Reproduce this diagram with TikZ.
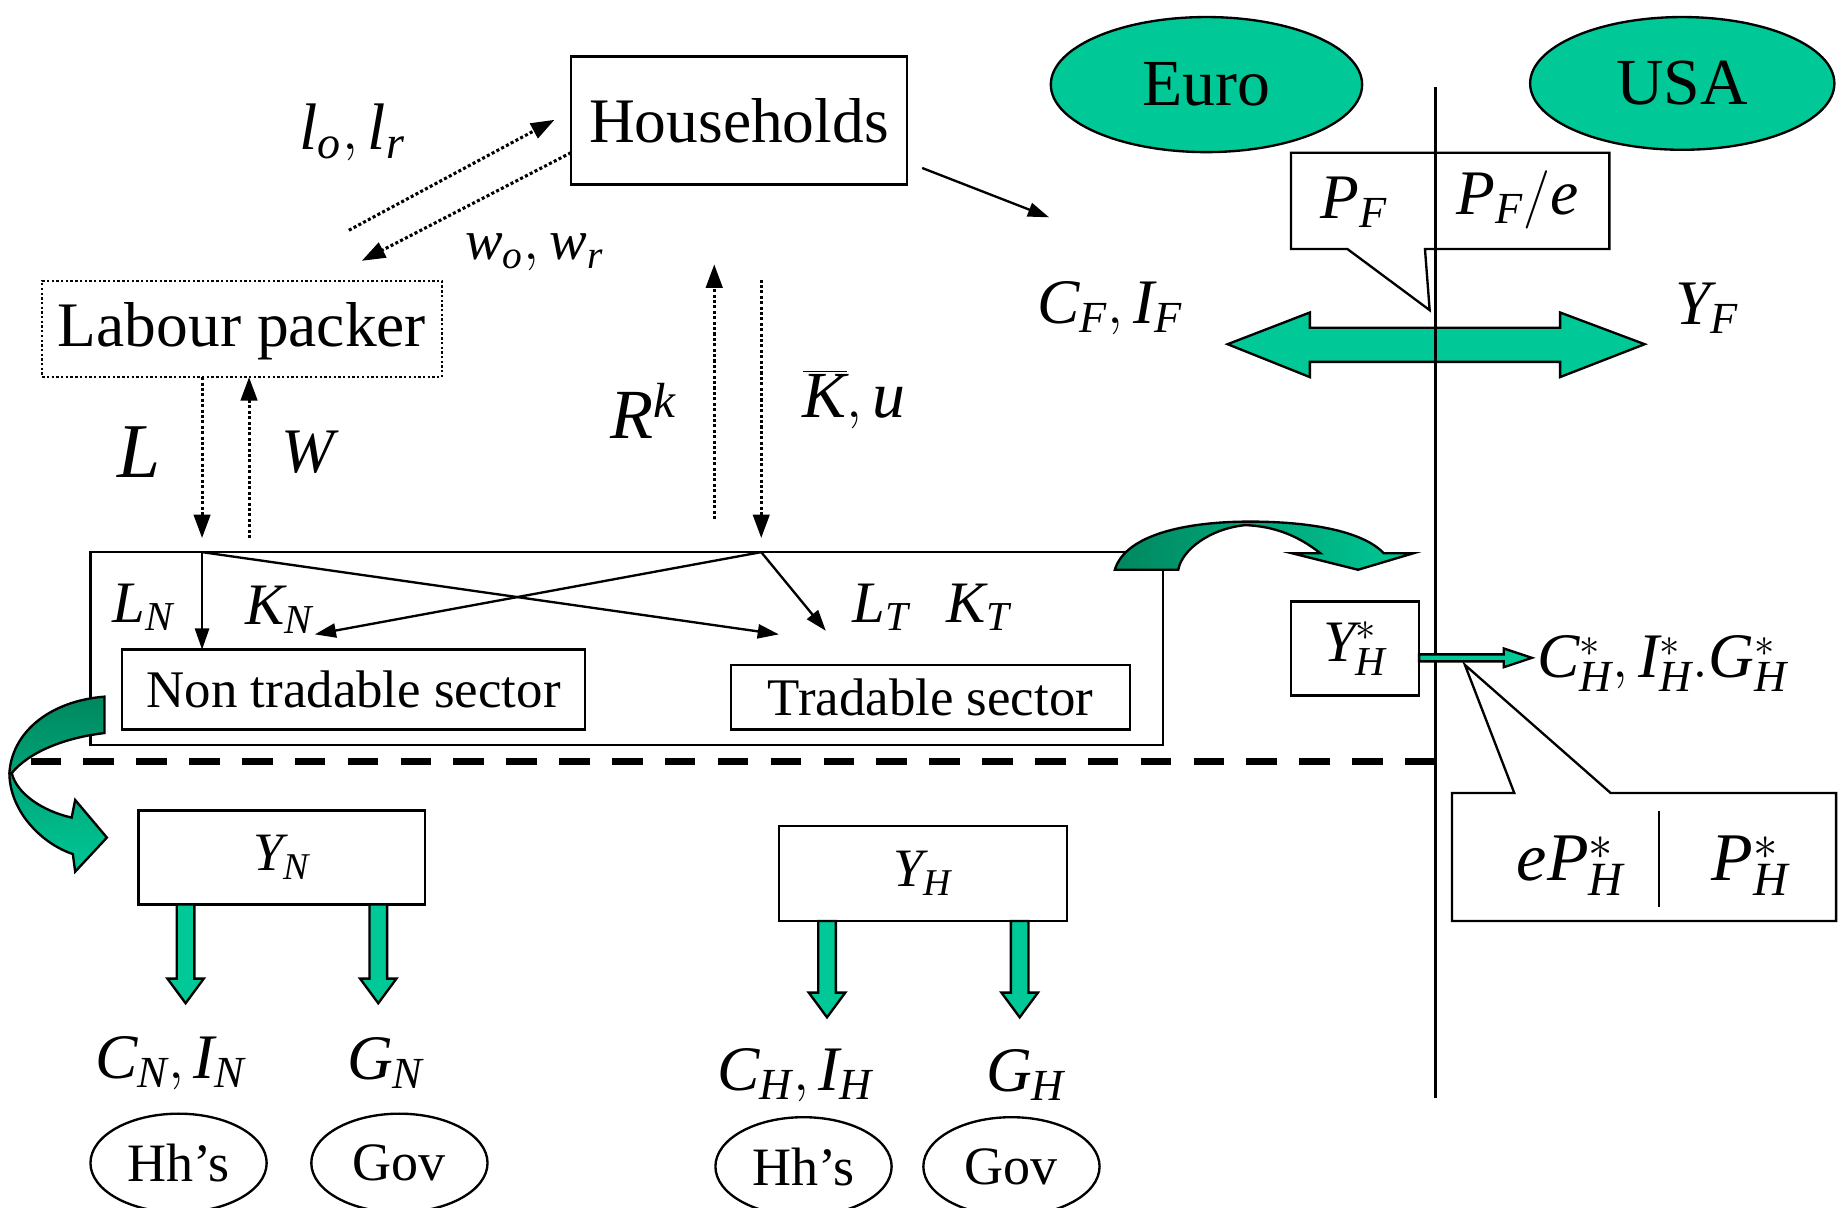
\documentclass[tikz,border=0pt]{standalone}
\usepackage{fontspec}
\setmainfont{Liberation Serif}
\usetikzlibrary{arrows.meta,shapes.geometric}
\definecolor{tealg}{RGB}{0,200,150}
\definecolor{darkg}{RGB}{0,135,95}
\newcommand\vv[1]{\mathit{#1}}
\newcommand\blockdown[3]{\draw[blockarrow] ({#1-7.5},#2) -- ({#1+7.5},#2) -- ({#1+7.5},{#3-21}) -- ({#1+15.5},{#3-21}) -- (#1,#3) -- ({#1-15.5},{#3-21}) -- ({#1-7.5},{#3-21}) -- cycle;}
\begin{document}
\begin{tikzpicture}[x=0.5pt,y=-0.5pt,
  every node/.style={inner sep=0pt,outer sep=0pt},
  fs/.style={font=\fontsize{#1}{#1}\selectfont},
  rbox/.style={draw,line width=1pt,fill=white},
  ell/.style={ellipse,draw,line width=1pt},
  dotarrow/.style={densely dotted,line width=1.3pt,-{Triangle[length=10pt,width=7pt]}},
  solarrow/.style={line width=1pt,-{Triangle[length=9pt,width=6pt]}},
  blockarrow/.style={draw,line width=1pt,fill=tealg,line join=miter},
]
\useasboundingbox (0,0) rectangle (1568,1028);

% boxes
\node[rbox,minimum width=143pt,minimum height=54.5pt,fs=27] (hh) at (629,102.5) {Households};
\node[draw,densely dotted,line width=1pt,minimum width=170pt,minimum height=41pt] (lp) at (206,280) {};
\node[fs=27] (lptext) at (206,282) {Labour packer};
\node[draw,line width=1pt,minimum width=456.5pt,minimum height=82pt] (big) at (533.5,552) {};
\node[rbox,minimum width=197pt,minimum height=34pt,fs=22.5] (nts) at (301,587) {Non tradable sector};
\node[rbox,minimum width=170pt,minimum height=27.5pt,fs=22.5] (ts) at (792,593.5) {Tradable sector};

% ellipses
\node[ell,fill=tealg,minimum width=132.5pt,minimum height=57.5pt,fs=28] (euro) at (1027,72) {Euro};
\node[ell,fill=tealg,minimum width=129.5pt,minimum height=56.5pt,fs=28] (usa) at (1432,71) {USA};

% dotted flows
\coordinate (lsrc) at (297,196); \coordinate (ltgt) at (472,102);
\draw[dotarrow] (lsrc) -- (ltgt);
\coordinate (wsrc) at (486,130); \coordinate (wtgt) at (308,222);
\draw[dotarrow] (wsrc) -- (wtgt);
\coordinate (Ltop) at (172,321); \coordinate (Lbot) at (172,458);
\draw[dotarrow] (Ltop) -- (Lbot);
\coordinate (Wbot) at (212,458); \coordinate (Wtop) at (212,321);
\draw[dotarrow] (Wbot) -- (Wtop);
\coordinate (Rbot) at (608,442); \coordinate (Rtop) at (608,225);
\draw[dotarrow] (Rbot) -- (Rtop);
\coordinate (Ktop) at (648,238); \coordinate (Kbot) at (648,458);
\draw[dotarrow] (Ktop) -- (Kbot);

% households to foreign
\coordinate (hhout) at (785,143); \coordinate (cfin) at (893,185);
\draw[solarrow] (hhout) -- (cfin);

% inside big box
\coordinate (nA) at (172,470); \coordinate (nB) at (648,470);
\coordinate (tT) at (663,540); \coordinate (kN) at (268,540); \coordinate (lT) at (703,537);
\draw[solarrow] (nA) -- (nA |- nts.north);
\draw[solarrow] (nA) -- (tT);
\draw[solarrow] (nB) -- (kN);
\draw[solarrow] (nB) -- (lT);

% labels
\node[fs=28] (lolr) at (300,113) {$\vv{l}_{\vv{o}},\vv{l}_{\vv{r}}$};
\node[fs=24] (wowr) at (455,215) {$\vv{w}_{\vv{o}},\vv{w}_{\vv{r}}$};
\node[fs=33] (Llab) at (118,385) {$\vv{L}$};
\node[fs=27] (Wlab) at (262,385) {$\vv{W}$};
\node[fs=30] (Rk) at (548,350) {$\vv{R}^{\vv{k}}$};
\node[fs=28] (Ku) at (727,340) {$\overline{\vv{K}},\vv{u}$};
\node[fs=25] (LN) at (122,517) {$\vv{L}_{\vv{N}}$};
\node[fs=25] (KN) at (238,519) {$\vv{K}_{\vv{N}}$};
\node[fs=25] (LT) at (750,517) {$\vv{L}_{\vv{T}}$};
\node[fs=25] (KT) at (833,517) {$\vv{K}_{\vv{T}}$};
\node[fs=27] (CFIF) at (945,262) {$\vv{C}_{\vv{F}},\vv{I}_{\vv{F}}$};
\node[fs=27] (YF) at (1453,262) {$\vv{Y}_{\vv{F}}$};

% curved green arrows
\draw[line width=1pt,left color=darkg,right color=tealg,line join=miter]
  (949,485) .. controls (958,455) and (1010,444) .. (1064,444)
  .. controls (1115,444) and (1160,452) .. (1178,471)
  -- (1203,471) -- (1156,485) -- (1100,471) -- (1124,471)
  .. controls (1105,456) and (1085,448) .. (1060,447)
  .. controls (1030,450) and (1006,468) .. (1003,485) -- cycle;
\draw[line width=1pt,top color=darkg,bottom color=tealg,line join=miter]
  (89,593) .. controls (40,597) and (10,625) .. (8,658)
  .. controls (8,690) and (35,718) .. (62,727)
  -- (64,742) -- (91,713) -- (64,681) -- (61,696)
  .. controls (35,690) and (14,675) .. (10,658)
  .. controls (25,640) and (55,628) .. (89,624) -- cycle;

% dashed boundary
\draw[line width=3pt,dash pattern=on 13pt off 9.5pt] (26,648) -- (1222,648);

% double arrow
\draw[blockarrow] (1045,293) -- (1115,266) -- (1115,279) -- (1328,279) -- (1328,266) -- (1400,293) -- (1328,321) -- (1328,308) -- (1115,308) -- (1115,321) -- cycle;

% callout PF
\draw[line width=1pt,fill=white,line join=miter] (1099,130) -- (1370,130) -- (1370,212) -- (1213,212) -- (1217,264) -- (1147,212) -- (1099,212) -- cycle;
\node[fs=27] (PF) at (1153,172) {$\vv{P}_{\vv{F}}$};
\node[fs=27] (PFe) at (1292,170) {$\vv{P}_{\vv{F}}/\vv{e}$};

% border line
\draw[line width=1pt] (1222,74) -- (1222,935);

% Y_H star
\node[rbox,minimum width=54.5pt,minimum height=40pt,fs=25] (YHs) at (1153.5,552) {$\vv{Y}^{*}_{\vv{H}}$};
\draw[blockarrow] (1208,557) -- (1280,557) -- (1280,552) -- (1304,560) -- (1280,568) -- (1280,563) -- (1208,563) -- cycle;
\node[fs=27] (CHs) at (1415,565) {$\vv{C}^{*}_{\vv{H}},\vv{I}^{*}_{\vv{H}}.\vv{G}^{*}_{\vv{H}}$};

% callout eP
\draw[line width=1pt,fill=white,line join=miter] (1236,675) -- (1289,675) -- (1247,566) -- (1371,675) -- (1563,675) -- (1563,784) -- (1236,784) -- cycle;
\draw[line width=1pt] (1412,690) -- (1412,772);
\node[fs=29] (ePH) at (1337,737) {$\vv{e}\vv{P}^{*}_{\vv{H}}$};
\node[fs=29] (PH) at (1490,737) {$\vv{P}^{*}_{\vv{H}}$};

% lower part
\node[rbox,minimum width=122pt,minimum height=40pt,fs=23] (YN) at (240,730) {$\vv{Y}_{\vv{N}}$};
\node[rbox,minimum width=122.5pt,minimum height=40.5pt,fs=23] (YH) at (785.5,743.5) {$\vv{Y}_{\vv{H}}$};
\blockdown{158}{770}{854}
\blockdown{322}{770}{854}
\blockdown{704}{784}{866}
\blockdown{868}{784}{866}
\node[fs=27] (CNIN) at (145,905) {$\vv{C}_{\vv{N}},\vv{I}_{\vv{N}}$};
\node[fs=27] (GN) at (328,905) {$\vv{G}_{\vv{N}}$};
\node[fs=27] (CHIH) at (677,915) {$\vv{C}_{\vv{H}},\vv{I}_{\vv{H}}$};
\node[fs=27] (GH) at (873,915) {$\vv{G}_{\vv{H}}$};
\node[ell,minimum width=75pt,minimum height=42pt,fs=23] (hhN) at (152,990) {Hh’s};
\node[ell,minimum width=75pt,minimum height=42pt,fs=23] (govN) at (340,990) {Gov};
\node[ell,minimum width=75pt,minimum height=42pt,fs=23] (hhH) at (684,993) {Hh’s};
\node[ell,minimum width=75pt,minimum height=42pt,fs=23] (govH) at (861,993) {Gov};
\end{tikzpicture}
\end{document}
